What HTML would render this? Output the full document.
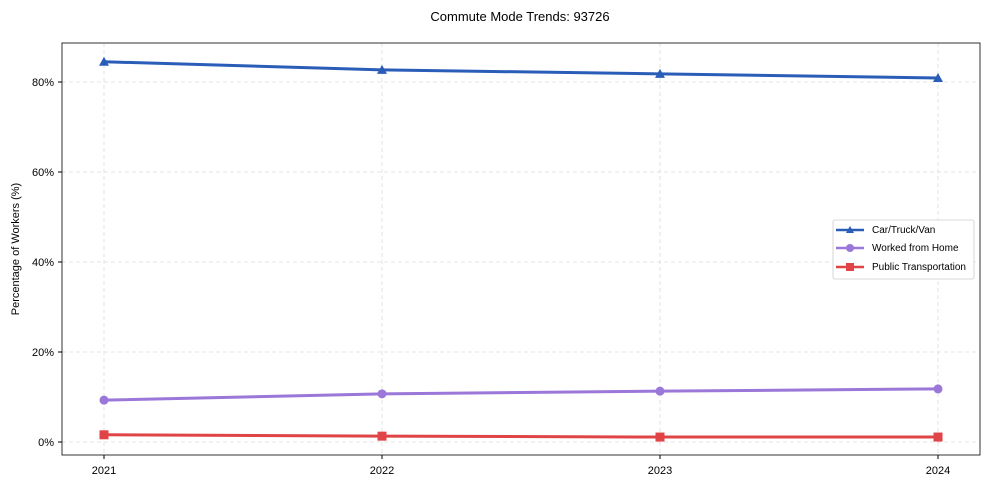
<!DOCTYPE html>
<html><head><meta charset="utf-8"><style>
body{margin:0;background:#fff;font-family:"Liberation Sans",Arial,sans-serif}
</style></head><body>
<svg id="c" width="990" height="490" xmlns="http://www.w3.org/2000/svg">
<rect width="990" height="490" fill="#fff"/>
<text x="520" y="21" text-anchor="middle" font-size="13">Commute Mode Trends: 93726</text>
<text transform="translate(19,249) rotate(-90)" text-anchor="middle" font-size="11">Percentage of Workers (%)</text>
<g id="grid"></g><g id="series"></g>
<rect x="62" y="43" width="918" height="412" fill="none" stroke="#000" stroke-width="0.8"/>
<g id="ticks"></g>
<g>
<rect x="833" y="220" width="141" height="59" rx="2" fill="#fff" stroke="#ccc" stroke-width="0.8"/>
<g><line x1="836" y1="230" x2="864" y2="230" stroke="#2a5db8" stroke-width="2.5"/><polygon points="850,226 854,233 846,233" fill="#2a5db8"/><text x="872" y="233" font-size="10">Car/Truck/Van</text></g>
<g><line x1="836" y1="248" x2="864" y2="248" stroke="#9b77d9" stroke-width="2.5"/><circle cx="850" cy="248" r="4" fill="#9b77d9"/><text x="872" y="251" font-size="10">Worked from Home</text></g>
<g><line x1="836" y1="267" x2="864" y2="267" stroke="#e04446" stroke-width="2.5"/><rect x="846" y="263" width="8" height="8" fill="#e04446"/><text x="872" y="270" font-size="10">Public Transportation</text></g>
</g>
</svg>
<script>
const years=["2021","2022","2023","2024"];
const carValues=[84.5,82.7,81.8,80.9];
const wfhValues=[9.3,10.7,11.3,11.8];
const publicValues=[1.6,1.3,1.1,1.1];
const yTicks=[0,20,40,60,80];
const NS="http://www.w3.org/2000/svg";
const xs=i=>104+i*(938-104)/(years.length-1);
const ys=v=>442-v*4.5;
function mk(t,a,p){const e=document.createElementNS(NS,t);for(const k in a)e.setAttribute(k,a[k]);p.appendChild(e);return e;}
const grid=document.getElementById('grid'),ticks=document.getElementById('ticks'),ser=document.getElementById('series');
yTicks.forEach(v=>{
 const l=mk('line',{x1:62,x2:980,y1:ys(v),y2:ys(v),stroke:'#ddd','stroke-dasharray':'4,3','stroke-width':0.8},grid);
 
 
 mk('line',{x1:58,x2:62,y1:ys(v),y2:ys(v),stroke:'#000'},ticks);
 const t=mk('text',{x:54,y:ys(v)+4,'text-anchor':'end','font-size':11},ticks);t.textContent=v+'%';
 
 
});
years.forEach((y,i)=>{
 const l=mk('line',{x1:xs(i),x2:xs(i),y1:43,y2:455,stroke:'#ddd','stroke-dasharray':'4,3','stroke-width':0.8},grid);
 
 
 mk('line',{x1:xs(i),x2:xs(i),y1:455,y2:459,stroke:'#000'},ticks);
 const t=mk('text',{x:xs(i),y:474,'text-anchor':'middle','font-size':11},ticks);t.textContent=y;
 
 
});
function series(vals,color,marker,name){
 const g=mk('g',{},ser);
 
 
 mk('polyline',{points:vals.map((v,i)=>xs(i)+','+ys(v)).join(' '),fill:'none',stroke:color,'stroke-width':3},g);
 vals.forEach((v,i)=>{
  const x=xs(i),y=ys(v);let m;
  if(marker==='tri')m=mk('polygon',{points:`${x},${y-5} ${x+5},${y+4} ${x-5},${y+4}`,fill:color},g);
  else if(marker==='circ')m=mk('circle',{cx:x,cy:y,r:4.5,fill:color},g);
  else m=mk('rect',{x:x-4.5,y:y-4.5,width:9,height:9,fill:color},g);
  
  
 });
}
series(carValues,'#2a5db8','tri','car-truck-van-series');
series(wfhValues,'#9b77d9','circ','worked-from-home-series');
series(publicValues,'#e04446','sq','public-transportation-series');
</script>
</body></html>
